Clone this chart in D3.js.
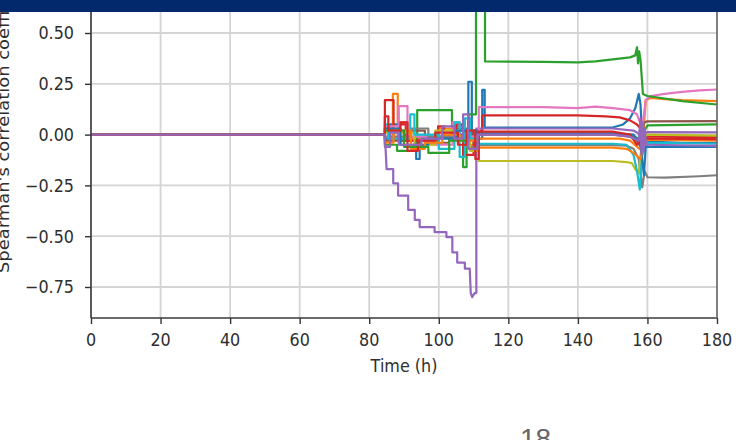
<!DOCTYPE html>
<html>
<head>
<meta charset="utf-8">
<script src="https://cdn.jsdelivr.net/npm/d3@7"></script>
<style>
  html, body { margin: 0; padding: 0; background: #fff; }
  svg { display: block; }
</style>
</head>
<body>
<svg id="chart" width="736" height="440"></svg>
<script>
// Tick labels
const xTicks = [0, 20, 40, 60, 80, 100, 120, 140, 160, 180];
const yTicks = [-0.75, -0.5, -0.25, 0, 0.25, 0.5];

// Series colours (matplotlib default cycle)
const palette = ["#1f77b4", "#ff7f0e", "#2ca02c", "#d62728", "#9467bd",
                 "#8c564b", "#e377c2", "#7f7f7f", "#bcbd22", "#17becf"];

// Spearman correlation over time, one array of [time (h), coefficient] per variable
const s00 = [[0,0],[84.5,0],[84.5,-0.02],[86,-0.02],[86,0.05],[88.5,0.05],[88.5,-0.03],[93.5,-0.03],[93.5,-0.12],[94.5,-0.12],[94.5,-0.01],[104,-0.01],[104,0.03],[108.5,0.03],[108.5,0.26],[109.5,0.26],[109.5,-0.02],[112.5,-0.02],[112.5,0.22],[113.2,0.22],[113.2,0.035],[150,0.035],[153,0.05],[155,0.08],[156.5,0.13],[157.5,0.2],[158,0.15],[158.5,-0.02],[160,-0.035],[170,-0.04],[180,-0.042]];
const s01 = [[0,0],[84.5,0],[84.5,0.03],[86.8,0.03],[86.8,0.2],[88.2,0.2],[88.2,0.06],[91,0.06],[91,-0.02],[100,-0.02],[100,0.03],[104,0.03],[104,0],[108,0],[108,-0.05],[111.5,-0.05],[111.5,-0.02],[152,-0.02],[155,-0.03],[157,-0.06],[158.5,-0.08],[159.5,0.17],[161,0.18],[165,0.175],[170,0.17],[175,0.167],[180,0.165]];
const s02 = [[0,0],[84.5,0],[84.5,-0.05],[88,-0.05],[88,-0.08],[93.8,-0.08],[93.8,0.12],[103.8,0.12],[103.8,0.04],[107,0.04],[107,-0.16],[108,-0.16],[108,-0.02],[111.5,-0.02],[111.5,0.006],[150,0.006],[155,0],[157.5,-0.02],[158.5,0],[160,0.045],[180,0.05]];
const s03 = [[0,0],[84.5,0],[84.5,0.17],[87,0.17],[87,-0.02],[88.5,-0.02],[88.5,0.05],[90.5,0.05],[90.5,-0.03],[99.8,-0.03],[99.8,0.04],[101.5,0.04],[101.5,-0.01],[105,-0.01],[105,0.05],[107,0.05],[107,-0.1],[110,-0.1],[110,0.02],[112.5,0.02],[112.5,0.095],[140,0.095],[148,0.09],[152,0.085],[155,0.07],[157,0.05],[158.5,0.02],[159.5,-0.01],[180,-0.012]];
const s04 = [[0,0],[84.5,0],[85,-0.17],[86.9,-0.17],[86.9,-0.24],[88.3,-0.24],[88.3,-0.3],[91.2,-0.3],[91.2,-0.37],[93.1,-0.37],[93.1,-0.42],[94.5,-0.42],[94.5,-0.455],[98.8,-0.455],[98.8,-0.48],[102.2,-0.48],[102.2,-0.505],[103.9,-0.505],[103.9,-0.58],[105.3,-0.58],[105.3,-0.63],[107.5,-0.63],[107.5,-0.66],[108.9,-0.66],[109.2,-0.78],[109.6,-0.8],[110.3,-0.78],[110.8,-0.78],[110.8,0.03],[150,0.03],[156,0.02],[158,0],[160,0.012],[180,0.011]];
const s05 = [[0,0],[84.5,0],[84.5,-0.03],[90,-0.03],[90,0.02],[96,0.02],[96,-0.04],[103,-0.04],[103,0],[110,0],[110,-0.04],[111.5,-0.04],[111.5,0],[150,0],[155,-0.01],[157,-0.03],[158,-0.06],[159,0.06],[160,0.065],[180,0.066]];
const s06 = [[0,0],[84.5,0],[84.5,0.04],[88.5,0.04],[88.5,0.14],[91,0.14],[91,-0.01],[98,-0.01],[98,-0.05],[104,-0.05],[104,0.06],[106,0.06],[106,-0.01],[111.5,-0.01],[111.5,0.135],[130,0.135],[140,0.13],[145,0.138],[150,0.13],[155,0.12],[157,0.1],[158.5,0.03],[159.5,0.17],[161,0.19],[165,0.2],[170,0.21],[175,0.218],[180,0.222]];
const s07 = [[0,0],[84.5,0],[84.5,-0.01],[92,-0.01],[92,0.03],[97,0.03],[97,-0.01],[108,-0.01],[108,-0.06],[111.5,-0.06],[111.5,-0.052],[150,-0.052],[154,-0.055],[156,-0.07],[157.5,-0.12],[158.5,-0.26],[159.2,-0.18],[160,-0.21],[165,-0.212],[175,-0.205],[180,-0.2]];
const s08 = [[0,0],[84.5,0],[84.5,0.01],[93,0.01],[93,-0.05],[99,-0.05],[99,0.02],[109,0.02],[109,-0.08],[111.5,-0.08],[111.5,-0.13],[150,-0.13],[154,-0.135],[155.5,-0.14],[156.5,-0.17],[157.5,-0.19],[158.5,-0.02],[160,0],[180,-0.005]];
const s09 = [[0,0],[84.5,0],[84.5,0.05],[85.5,0.05],[85.5,-0.02],[91.8,-0.02],[91.8,0.1],[93,0.1],[93,0],[100,0],[100,-0.07],[104.5,-0.07],[104.5,0.06],[106,0.06],[106,-0.11],[107.5,-0.11],[107.5,0.08],[109,0.08],[109,-0.02],[111.5,-0.02],[111.5,-0.045],[150,-0.045],[154,-0.05],[156,-0.1],[157,-0.18],[157.8,-0.27],[158.5,-0.1],[160,-0.04],[180,-0.045]];
const s10 = [[0,0],[84.5,0],[84.5,0.03],[89,0.03],[89,-0.05],[97,-0.05],[97,-0.02],[105,-0.02],[105,0.02],[111,0.02],[111,0.005],[150,0.005],[156,0],[158,-0.05],[159,-0.2],[159.5,-0.06],[180,-0.06]];
const s11 = [[0,0],[84.5,0],[84.5,-0.04],[87,-0.04],[87,0.02],[92,0.02],[92,-0.07],[96,-0.07],[96,-0.04],[101,-0.04],[101,0],[106,0],[106,-0.03],[111.5,-0.03],[111.5,-0.064],[150,-0.064],[154,-0.07],[156,-0.09],[158,-0.12],[159,-0.03],[160,-0.025],[180,-0.03]];
const s12 = [[0,0],[84.5,0],[84.5,0.02],[90,0.02],[90,-0.06],[97,-0.06],[97,-0.09],[103,-0.09],[103,-0.03],[108.5,-0.03],[108.5,0.1],[110.7,0.1],[110.7,0.95],[113.3,0.95],[113.3,0.36],[130,0.358],[140,0.355],[145,0.36],[150,0.37],[155,0.38],[156.5,0.39],[157,0.43],[157.3,0.35],[157.6,0.41],[158,0.37],[158.7,0.2],[160,0.19],[162,0.185],[170,0.165],[180,0.148]];
const s13 = [[0,0],[84.5,0],[84.5,0.09],[85.5,0.09],[85.5,0.02],[89,0.02],[89,0.06],[91,0.06],[91,-0.08],[94,-0.08],[94,-0.03],[99,-0.03],[99,0.01],[105.5,0.01],[105.5,-0.05],[108,-0.05],[108,0.02],[110.5,0.02],[110.5,-0.12],[111.5,-0.12],[111.5,0.015],[150,0.015],[155,0],[157,-0.05],[158.5,-0.02],[160,-0.02],[180,-0.022]];
const s14 = [[0,0],[84.5,0],[84.5,-0.06],[86,-0.06],[86,0.01],[88.5,0.01],[88.5,-0.05],[95,-0.05],[95,-0.02],[101,-0.02],[101,0.04],[104.5,0.04],[104.5,-0.02],[107,-0.02],[107,0.1],[108.5,0.1],[108.5,-0.07],[111.2,-0.07],[111.2,0],[150,0],[155,-0.01],[157.5,-0.03],[158,0.08],[158.3,-0.1],[158.6,0.06],[158.9,-0.08],[159.2,0.03],[159.6,-0.05],[160,-0.05],[180,-0.055]];

const seriesList = [s00, s01, s02, s03, s04, s05, s06, s07, s08, s09, s10, s11, s12, s13, s14];

const svg = d3.select("#chart");
const plot = { left: 91, right: 717, top: 0, bottom: 318 };
const FONT = "'DejaVu Sans', sans-serif";
const TEXT_COLOR = "#2e2e2e";
const STRETCH = 1.12; // the figure is drawn slightly taller than wide

const x = d3.scaleLinear().domain([0, 180]).range([plot.left, plot.right]);
const y = d3.scaleLinear().domain([-0.75, 0.5]).range([287, 33]);

svg.append("rect").attr("width", 736).attr("height", 440).attr("fill", "#fff");

// grid
const grid = svg.append("g").attr("class", "grid");
grid.selectAll("line.gx").data(xTicks).join("line")
  .attr("x1", d => x(d)).attr("x2", d => x(d))
  .attr("y1", plot.top).attr("y2", plot.bottom)
  .attr("stroke", "#d4d4d4").attr("stroke-width", 1.8);
grid.selectAll("line.gy").data(yTicks).join("line")
  .attr("x1", plot.left).attr("x2", plot.right)
  .attr("y1", d => y(d)).attr("y2", d => y(d))
  .attr("stroke", "#d4d4d4").attr("stroke-width", 1.8);

// lines
svg.append("clipPath").attr("id", "plotclip")
  .append("rect").attr("x", plot.left).attr("y", plot.top)
  .attr("width", plot.right - plot.left).attr("height", plot.bottom - plot.top);

const line = d3.line().x(d => x(d[0])).y(d => y(d[1]));
svg.append("g").attr("clip-path", "url(#plotclip)")
  .selectAll("path").data(seriesList).join("path")
  .attr("d", line)
  .attr("fill", "none")
  .attr("stroke", (d, i) => palette[i % palette.length])
  .attr("stroke-width", 2.2)
  .attr("stroke-linejoin", "round");

// axes: tick marks from d3, labels placed from the same scales
const xAxis = svg.append("g")
  .attr("transform", `translate(0,${plot.bottom})`)
  .call(d3.axisBottom(x).tickValues(xTicks).tickSize(6).tickFormat(""));
const yAxis = svg.append("g")
  .attr("transform", `translate(${plot.left},0)`)
  .call(d3.axisLeft(y).tickValues(yTicks).tickSize(6).tickFormat(""));
[xAxis, yAxis].forEach(g => {
  g.select(".domain").remove();
  g.selectAll(".tick line").attr("stroke", "#333").attr("stroke-width", 1.4);
});

const fmtY = d3.format(".2f");
svg.append("g").selectAll("g").data(xTicks).join("g")
  .attr("transform", d => `translate(${x(d)},346) scale(1,${STRETCH})`)
  .append("text")
  .attr("text-anchor", "middle")
  .attr("fill", TEXT_COLOR)
  .style("font-family", FONT).style("font-size", "16px")
  .text(d3.format("d"));
svg.append("g").selectAll("g").data(yTicks).join("g")
  .attr("transform", d => `translate(74,${y(d)}) scale(1,${STRETCH})`)
  .append("text")
  .attr("text-anchor", "end")
  .attr("dy", "0.36em")
  .attr("fill", TEXT_COLOR)
  .style("font-family", FONT).style("font-size", "16px")
  .text(fmtY);

// axis titles
svg.append("g")
  .attr("transform", `translate(${(plot.left + plot.right) / 2},372) scale(1,${STRETCH})`)
  .append("text")
  .attr("text-anchor", "middle")
  .attr("fill", TEXT_COLOR)
  .style("font-family", FONT).style("font-size", "16px")
  .text("Time (h)");

svg.append("g")
  .attr("transform", `translate(9,273) scale(1,${STRETCH}) rotate(-90)`)
  .append("text")
  .attr("text-anchor", "start")
  .attr("fill", TEXT_COLOR)
  .style("font-family", FONT).style("font-size", "16px")
  .text("Spearman's correlation coefficient");

// spines
const spines = svg.append("g").attr("stroke", "#3a3a3a").attr("stroke-width", 1.6);
spines.append("line").attr("x1", plot.left).attr("x2", plot.left).attr("y1", plot.top).attr("y2", plot.bottom);
spines.append("line").attr("x1", plot.left).attr("x2", plot.right).attr("y1", plot.bottom).attr("y2", plot.bottom);
spines.append("line").attr("x1", plot.right).attr("x2", plot.right).attr("y1", plot.top).attr("y2", plot.bottom).attr("stroke", "#6a6a6a");

// slide header band and page number
svg.append("rect").attr("x", 0).attr("y", 0).attr("width", 736).attr("height", 12).attr("fill", "#01296b");
svg.append("text")
  .attr("x", 520).attr("y", 448)
  .attr("fill", "#666")
  .style("font-family", "'Liberation Sans', Arial, sans-serif").style("font-size", "28px")
  .text("18");
</script>
</body>
</html>
